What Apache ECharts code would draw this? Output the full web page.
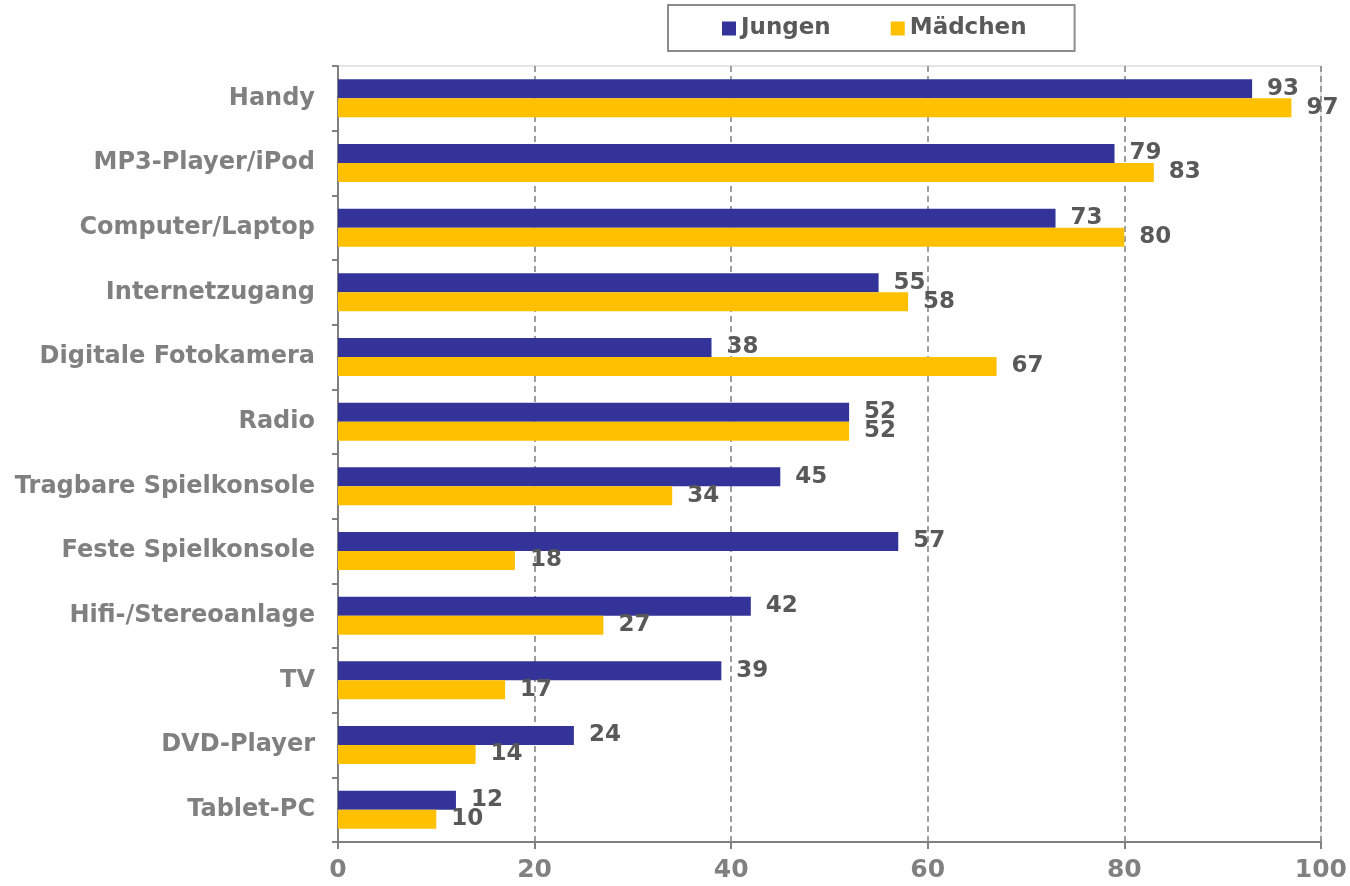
<!DOCTYPE html>
<html>
<head>
<meta charset="utf-8">
<script src="https://cdn.jsdelivr.net/npm/echarts@6/dist/echarts.min.js"></script>
<style>
  html, body { margin: 0; padding: 0; background: #fff; }
  #chart { width: 1350px; height: 886px; }
</style>
</head>
<body>
<div id="chart"></div>
<script>
const categories = [
  'Handy', 'MP3-Player/iPod', 'Computer/Laptop', 'Internetzugang',
  'Digitale Fotokamera', 'Radio', 'Tragbare Spielkonsole', 'Feste Spielkonsole',
  'Hifi-/Stereoanlage', 'TV', 'DVD-Player', 'Tablet-PC'
]
const jungen = [93, 79, 73, 55, 38, 52, 45, 57, 42, 39, 24, 12]
const maedchen = [97, 83, 80, 58, 67, 52, 34, 18, 27, 17, 14, 10]
const xTicks = [0, 20, 40, 60, 80, 100]

const FONT = 'DejaVu Sans'
const chart = echarts.init(document.getElementById('chart'))

const barLabel = {
  show: true,
  position: 'right',
  distance: 15,
  color: '#595959',
  fontFamily: FONT,
  fontWeight: 'bold',
  fontSize: 23
}

chart.setOption({
  backgroundColor: '#fff',
  animation: false,
  legend: {
    left: 668,
    top: 5,
    padding: [12, 48, 11, 54],
    itemWidth: 14,
    itemHeight: 14,
    itemGap: 60,
    borderColor: '#8c8c8c',
    borderWidth: 2,
    icon: 'rect',
    textStyle: { color: '#595959', fontFamily: FONT, fontWeight: 'bold', fontSize: 23 },
    data: ['Jungen', 'Mädchen']
  },
  grid: {
    left: 338,
    right: 29,
    top: 66,
    bottom: 44,
    show: true,
    borderColor: '#cccccc',
    borderWidth: 1
  },
  xAxis: {
    type: 'value',
    min: xTicks[0],
    max: xTicks[xTicks.length - 1],
    interval: 20,
    axisLine: { show: true, lineStyle: { color: '#808080', width: 2 } },
    axisTick: { show: true, length: 7, lineStyle: { color: '#808080', width: 2 } },
    axisLabel: { color: '#808080', fontFamily: FONT, fontWeight: 'bold', fontSize: 25, margin: 16 },
    splitLine: { show: true, lineStyle: { color: '#808080', type: [6, 4], width: 1.5 } }
  },
  yAxis: {
    type: 'category',
    data: categories,
    inverse: true,
    axisLine: { show: true, lineStyle: { color: '#808080', width: 2 } },
    axisTick: { show: true, length: 6, lineStyle: { color: '#808080', width: 2 } },
    axisLabel: { color: '#808080', fontFamily: FONT, fontWeight: 'bold', fontSize: 24, margin: 23 },
    splitLine: { show: false }
  },
  series: [
    {
      name: 'Jungen',
      type: 'bar',
      data: jungen,
      barWidth: 19,
      barGap: '0%',
      itemStyle: { color: '#333399' },
      label: barLabel
    },
    {
      name: 'Mädchen',
      type: 'bar',
      data: maedchen,
      barWidth: 19,
      itemStyle: { color: '#FFC000' },
      label: barLabel
    }
  ]
})
</script>
</body>
</html>
